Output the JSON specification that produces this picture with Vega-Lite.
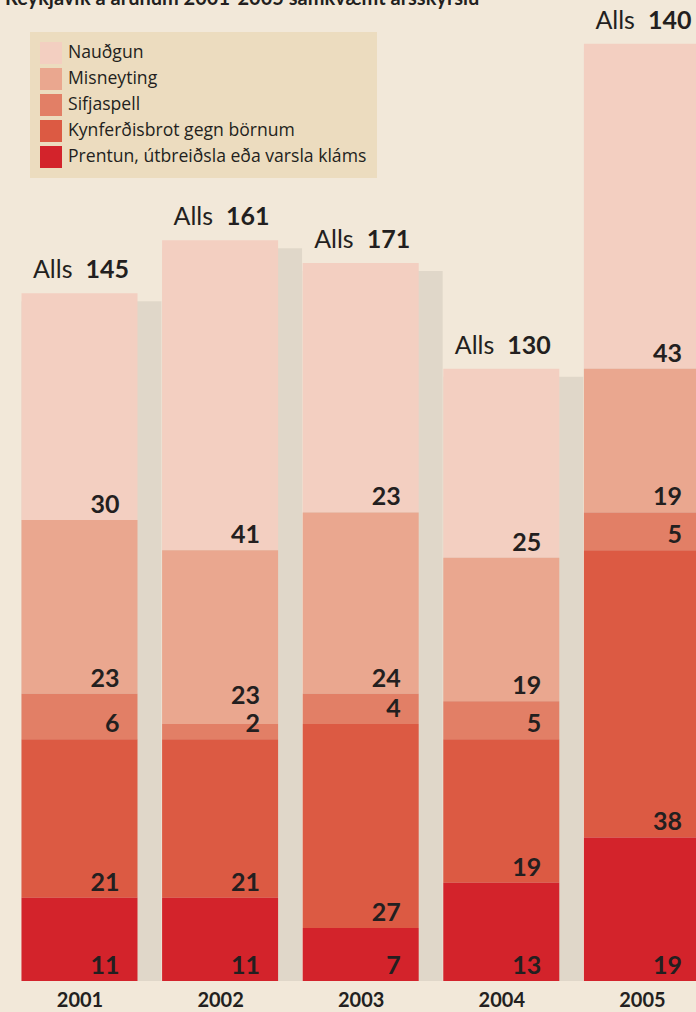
{
  "$schema": "https://vega.github.io/schema/vega-lite/v6.json",
  "width": 696,
  "height": 981,
  "autosize": {"type": "none"},
  "padding": {"left": 0, "top": 0, "right": 0, "bottom": 31},
  "background": "#f2e8d9",
  "title": {
    "text": "Reykjavík á árunum 2001-2005 samkvæmt ársskýrslu",
    "anchor": "start",
    "frame": "group",
    "orient": "top",
    "offset": 0,
    "dy": 25,
    "baseline": "alphabetic",
    "font": "Lato",
    "fontSize": 20,
    "fontWeight": "bold",
    "color": "#231f20",
    "dx": 5
  },
  "config": {
    "view": {"stroke": null},
    "font": "Lato"
  },
  "data": {
    "values": [
      {"year": 2001, "category": "Nauðgun", "rank": 5, "value": 30, "label": "30", "alls": 145},
      {"year": 2001, "category": "Misneyting", "rank": 4, "value": 23, "label": "23", "alls": 145},
      {"year": 2001, "category": "Sifjaspell", "rank": 3, "value": 6, "label": "6", "alls": 145},
      {"year": 2001, "category": "Kynferðisbrot gegn börnum", "rank": 2, "value": 21, "label": "21", "alls": 145},
      {"year": 2001, "category": "Prentun, útbreiðsla eða varsla kláms", "rank": 1, "value": 11, "label": "11", "alls": 145},
      {"year": 2002, "category": "Nauðgun", "rank": 5, "value": 41, "label": "41", "alls": 161},
      {"year": 2002, "category": "Misneyting", "rank": 4, "value": 23, "label": "23", "alls": 161},
      {"year": 2002, "category": "Sifjaspell", "rank": 3, "value": 2, "label": "2", "alls": 161},
      {"year": 2002, "category": "Kynferðisbrot gegn börnum", "rank": 2, "value": 21, "label": "21", "alls": 161},
      {"year": 2002, "category": "Prentun, útbreiðsla eða varsla kláms", "rank": 1, "value": 11, "label": "11", "alls": 161},
      {"year": 2003, "category": "Nauðgun", "rank": 5, "value": 33, "label": "23", "alls": 171},
      {"year": 2003, "category": "Misneyting", "rank": 4, "value": 24, "label": "24", "alls": 171},
      {"year": 2003, "category": "Sifjaspell", "rank": 3, "value": 4, "label": "4", "alls": 171},
      {"year": 2003, "category": "Kynferðisbrot gegn börnum", "rank": 2, "value": 27, "label": "27", "alls": 171},
      {"year": 2003, "category": "Prentun, útbreiðsla eða varsla kláms", "rank": 1, "value": 7, "label": "7", "alls": 171},
      {"year": 2004, "category": "Nauðgun", "rank": 5, "value": 25, "label": "25", "alls": 130},
      {"year": 2004, "category": "Misneyting", "rank": 4, "value": 19, "label": "19", "alls": 130},
      {"year": 2004, "category": "Sifjaspell", "rank": 3, "value": 5, "label": "5", "alls": 130},
      {"year": 2004, "category": "Kynferðisbrot gegn börnum", "rank": 2, "value": 19, "label": "19", "alls": 130},
      {"year": 2004, "category": "Prentun, útbreiðsla eða varsla kláms", "rank": 1, "value": 13, "label": "13", "alls": 130},
      {"year": 2005, "category": "Nauðgun", "rank": 5, "value": 43, "label": "43", "alls": 140},
      {"year": 2005, "category": "Misneyting", "rank": 4, "value": 19, "label": "19", "alls": 140},
      {"year": 2005, "category": "Sifjaspell", "rank": 3, "value": 5, "label": "5", "alls": 140},
      {"year": 2005, "category": "Kynferðisbrot gegn börnum", "rank": 2, "value": 38, "label": "38", "alls": 140},
      {"year": 2005, "category": "Prentun, útbreiðsla eða varsla kláms", "rank": 1, "value": 19, "label": "19", "alls": 140}
    ]
  },
  "transform": [
    {"stack": "value", "groupby": ["year"], "sort": [{"field": "rank", "order": "ascending"}], "as": ["lo", "hi"]}
  ],
  "encoding": {
    "x": {
      "field": "year",
      "type": "quantitative",
      "scale": {"domain": [2000.4346, 2005.3848], "nice": false, "zero": false, "padding": 0},
      "axis": {
        "title": null,
        "values": [2001, 2002, 2003, 2004, 2005],
        "format": "d",
        "domain": false,
        "ticks": false,
        "grid": false,
        "labelFont": "Lato",
        "labelFontSize": 20,
        "labelFontWeight": "bold",
        "labelColor": "#231f20",
        "labelPadding": 9,
        "labelFlush": false
      }
    }
  },
  "layer": [
    {
      "transform": [{"filter": "datum.rank == 5"}],
      "mark": {"type": "bar", "size": 140, "xOffset": 12, "yOffset": 8, "color": "#000000", "opacity": 0.07, "clip": false},
      "encoding": {
        "y": {"field": "hi", "type": "quantitative", "scale": {"domain": [0, 129.8], "nice": false, "zero": true}, "axis": null},
        "y2": {"datum": 0}
      }
    },
    {
      "mark": {"type": "bar", "size": 116, "clip": false},
      "encoding": {
        "y": {"field": "lo", "type": "quantitative", "scale": {"domain": [0, 129.8], "nice": false, "zero": true}, "axis": null},
        "y2": {"field": "hi"},
        "color": {
          "field": "category",
          "type": "nominal",
          "scale": {
            "domain": ["Nauðgun", "Misneyting", "Sifjaspell", "Kynferðisbrot gegn börnum", "Prentun, útbreiðsla eða varsla kláms"],
            "range": ["#f3cfc1", "#eaa78f", "#e27f66", "#dc5a43", "#d3232b"]
          },
          "legend": {
            "title": null,
            "orient": "none",
            "legendX": 30,
            "legendY": 32,
            "fillColor": "#ecdcbf",
            "padding": 10,
            "symbolType": "square",
            "symbolSize": 484,
            "symbolStrokeWidth": 0,
            "symbolOpacity": 1,
            "labelFont": "Open Sans",
            "labelFontSize": 17.6,
            "labelColor": "#231f20",
            "labelOffset": 6,
            "rowPadding": 4,
            "labelLimit": 400
          }
        }
      }
    },
    {
      "transform": [{"filter": "!(datum.year == 2002 && datum.rank == 4)"}],
      "mark": {"type": "text", "align": "right", "baseline": "alphabetic", "dx": 40, "dy": -7, "font": "Lato", "fontSize": 25, "fontWeight": "bold", "color": "#231f20"},
      "encoding": {
        "y": {"field": "lo", "type": "quantitative"},
        "text": {"field": "label"}
      }
    },
    {
      "transform": [{"filter": "datum.year == 2002 && datum.rank == 4"}],
      "mark": {"type": "text", "align": "right", "baseline": "alphabetic", "dx": 40, "dy": -20, "font": "Lato", "fontSize": 25, "fontWeight": "bold", "color": "#231f20"},
      "encoding": {
        "y": {"field": "lo", "type": "quantitative"},
        "text": {"field": "label"}
      }
    },
    {
      "transform": [{"filter": "datum.rank == 5"}],
      "mark": {"type": "text", "align": "right", "baseline": "alphabetic", "dx": -7, "dy": -15, "font": "Lato", "fontSize": 25, "color": "#231f20", "text": "Alls"},
      "encoding": {
        "y": {"field": "hi", "type": "quantitative"}
      }
    },
    {
      "transform": [{"filter": "datum.rank == 5"}],
      "mark": {"type": "text", "align": "left", "baseline": "alphabetic", "dx": 6, "dy": -15, "font": "Lato", "fontSize": 25, "fontWeight": "bold", "color": "#231f20"},
      "encoding": {
        "y": {"field": "hi", "type": "quantitative"},
        "text": {"field": "alls"}
      }
    }
  ]
}
